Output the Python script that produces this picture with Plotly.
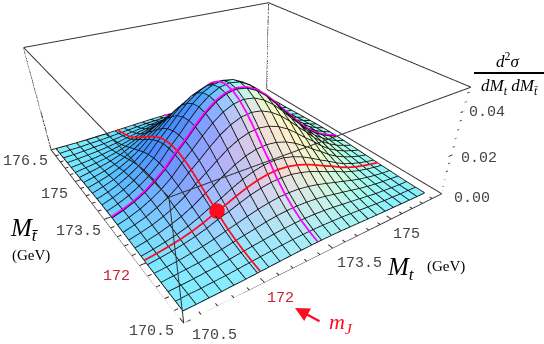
import numpy as np
import plotly.graph_objects as go

W, H = 544, 430

# grid of the surface, GeV
mt = np.linspace(170.6, 176.2, 25)
mtbar = np.linspace(170.7, 176.45, 25)

# d2sigma / dMt dMtbar, in units of 1e-4 (rows: mtbar, columns: mt)
z_rows = [
    [1, 1, 2, 3, 5, 6, 8, 10, 12, 14, 16, 17, 17, 17, 16, 14, 12, 10, 8, 6, 5, 3, 2, 1, 1],
    [1, 3, 4, 7, 9, 13, 17, 21, 25, 29, 31, 33, 34, 33, 31, 29, 25, 21, 17, 13, 9, 7, 4, 3, 1],
    [2, 4, 7, 11, 15, 21, 28, 34, 40, 46, 51, 54, 55, 54, 51, 46, 40, 34, 28, 21, 15, 11, 7, 4, 2],
    [3, 7, 11, 16, 23, 31, 41, 51, 60, 70, 77, 81, 83, 81, 77, 70, 60, 51, 41, 31, 23, 16, 11, 7, 3],
    [5, 9, 15, 23, 32, 44, 58, 71, 85, 98, 108, 115, 117, 115, 108, 98, 85, 71, 58, 44, 32, 23, 15, 9, 5],
    [6, 13, 21, 31, 44, 60, 80, 97, 116, 134, 147, 156, 159, 156, 147, 134, 116, 97, 80, 60, 44, 31, 21, 13, 6],
    [8, 17, 28, 41, 58, 80, 106, 129, 155, 178, 196, 208, 212, 208, 196, 178, 155, 129, 106, 80, 58, 41, 28, 17, 8],
    [10, 21, 34, 51, 71, 97, 129, 158, 189, 218, 240, 254, 259, 254, 240, 218, 189, 158, 129, 97, 71, 51, 34, 21, 10],
    [12, 25, 40, 60, 85, 116, 155, 189, 226, 261, 287, 304, 310, 304, 287, 261, 226, 189, 155, 116, 85, 60, 40, 25, 12],
    [14, 29, 46, 70, 98, 134, 178, 218, 261, 300, 330, 350, 357, 350, 330, 300, 261, 218, 178, 134, 98, 70, 46, 29, 14],
    [16, 31, 51, 77, 108, 147, 196, 240, 287, 330, 364, 386, 393, 386, 364, 330, 287, 240, 196, 147, 108, 77, 51, 31, 16],
    [17, 33, 54, 81, 115, 156, 208, 254, 304, 350, 386, 409, 417, 409, 386, 350, 304, 254, 208, 156, 115, 81, 54, 33, 17],
    [17, 34, 55, 83, 117, 159, 212, 259, 310, 357, 393, 417, 425, 417, 393, 357, 310, 259, 212, 159, 117, 83, 55, 34, 17],
    [17, 33, 54, 81, 115, 156, 208, 254, 304, 350, 386, 409, 417, 409, 386, 350, 304, 254, 208, 156, 115, 81, 54, 33, 17],
    [16, 31, 51, 77, 108, 147, 196, 240, 287, 330, 364, 386, 393, 386, 364, 330, 287, 240, 196, 147, 108, 77, 51, 31, 16],
    [14, 29, 46, 70, 98, 134, 178, 218, 261, 300, 330, 350, 357, 350, 330, 300, 261, 218, 178, 134, 98, 70, 46, 29, 14],
    [12, 25, 40, 60, 85, 116, 155, 189, 226, 261, 287, 304, 310, 304, 287, 261, 226, 189, 155, 116, 85, 60, 40, 25, 12],
    [10, 21, 34, 51, 71, 97, 129, 158, 189, 218, 240, 254, 259, 254, 240, 218, 189, 158, 129, 97, 71, 51, 34, 21, 10],
    [8, 17, 28, 41, 58, 80, 106, 129, 155, 178, 196, 208, 212, 208, 196, 178, 155, 129, 106, 80, 58, 41, 28, 17, 8],
    [6, 13, 21, 31, 44, 60, 80, 97, 116, 134, 147, 156, 159, 156, 147, 134, 116, 97, 80, 60, 44, 31, 21, 13, 6],
    [5, 9, 15, 23, 32, 44, 58, 71, 85, 98, 108, 115, 117, 115, 108, 98, 85, 71, 58, 44, 32, 23, 15, 9, 5],
    [3, 7, 11, 16, 23, 31, 41, 51, 60, 70, 77, 81, 83, 81, 77, 70, 60, 51, 41, 31, 23, 16, 11, 7, 3],
    [2, 4, 7, 11, 15, 21, 28, 34, 40, 46, 51, 54, 55, 54, 51, 46, 40, 34, 28, 21, 15, 11, 7, 4, 2],
    [1, 3, 4, 7, 9, 13, 17, 21, 25, 29, 31, 33, 34, 33, 31, 29, 25, 21, 17, 13, 9, 7, 4, 3, 1],
    [1, 1, 2, 3, 5, 6, 8, 10, 12, 14, 16, 17, 17, 17, 16, 14, 12, 10, 8, 6, 5, 3, 2, 1, 1],
]

x_range = [170.5, 176.5]
y_range = [170.5, 176.5]
z_range = [0.0, 0.05]
aspect = dict(x=1.137, y=1.168, z=0.442)

red_mt, red_mtbar = 172.05, 172.0
magenta_mt, magenta_mtbar = 173.3, 173.35

z = np.array(z_rows, float) * 1e-4
lift = 0.0004


def sample(xq, yq):
    # bilinear lookup on the table
    fx = np.clip(np.interp(xq, mt, np.arange(25)), 0, 23.999)
    fy = np.clip(np.interp(yq, mtbar, np.arange(25)), 0, 23.999)
    i, j = fx.astype(int), fy.astype(int)
    a, b = fx - i, fy - j
    return (z[j, i] * (1 - a) * (1 - b) + z[j, i + 1] * a * (1 - b)
            + z[j + 1, i] * (1 - a) * b + z[j + 1, i + 1] * a * b)


# surface cells, coloured like three coloured lights
X, Y = np.meshgrid(mt, mtbar)
idx = np.arange(625).reshape(25, 25)
tri_i, tri_j, tri_k, colors = [], [], [], []
sx = aspect["x"] / (x_range[1] - x_range[0])
sy = aspect["y"] / (y_range[1] - y_range[0])
sz = aspect["z"] / (z_range[1] - z_range[0])
base = np.array([130, 238, 255.0])
cx = np.array([80, 71, -54.0])
cy = np.array([-125, -30, 12.0])
cq = np.array([41, -84, -51.0])
for j in range(24):
    for i in range(24):
        gx = (z[j, i + 1] + z[j + 1, i + 1] - z[j, i] - z[j + 1, i]) / 2 * sz / ((mt[i + 1] - mt[i]) * sx)
        gy = (z[j + 1, i] + z[j + 1, i + 1] - z[j, i] - z[j, i + 1]) / 2 * sz / ((mtbar[j + 1] - mtbar[j]) * sy)
        norm = np.sqrt(1 + gx * gx + gy * gy)
        nx, ny = -gx / norm, -gy / norm
        c = np.clip(base + nx * cx + ny * cy + (nx * nx + ny * ny) * cq, 0, 255)
        col = "rgb(%d,%d,%d)" % tuple(c)
        tri_i += [idx[j, i], idx[j, i]]
        tri_j += [idx[j, i + 1], idx[j + 1, i + 1]]
        tri_k += [idx[j + 1, i + 1], idx[j + 1, i]]
        colors += [col, col]

fig = go.Figure()
fig.add_trace(go.Mesh3d(
    x=X.ravel(), y=Y.ravel(), z=z.ravel(), i=tri_i, j=tri_j, k=tri_k, facecolor=colors, flatshading=True,
    lighting=dict(ambient=1, diffuse=0, specular=0, fresnel=0.2, roughness=0.9, facenormalsepsilon=0, vertexnormalsepsilon=0),
    hoverinfo="skip",
))

# mesh lines
lx, ly, lz = [], [], []
for j in range(25):
    lx += list(mt) + [None]
    ly += [mtbar[j]] * 25 + [None]
    lz += list(z[j] + lift) + [None]
for i in range(25):
    lx += [mt[i]] * 25 + [None]
    ly += list(mtbar) + [None]
    lz += list(z[:, i] + lift) + [None]
fig.add_trace(go.Scatter3d(x=lx, y=ly, z=lz, mode="lines", line=dict(color="#111111", width=1.7), hoverinfo="skip"))


def mass_lines(at_x, at_y, color):
    fine_x = np.linspace(mt[0], mt[-1], 113)
    fine_y = np.linspace(mtbar[0], mtbar[-1], 113)
    for xs, ys in [(np.full(113, at_x), fine_y), (fine_x, np.full(113, at_y))]:
        fig.add_trace(go.Scatter3d(x=xs, y=ys, z=sample(xs, ys) + 2 * lift, mode="lines",
                                   line=dict(color=color, width=3.5), hoverinfo="skip"))


mass_lines(magenta_mt, magenta_mtbar, "#ff00ff")
mass_lines(red_mt, red_mtbar, "#ff0a1e")
fig.add_trace(go.Scatter3d(x=[red_mt], y=[red_mtbar], z=sample(np.array([red_mt]), np.array([red_mtbar])) + 3 * lift,
                           mode="markers", marker=dict(color="#ff0a1e", size=9), hoverinfo="skip"))

# box edges
x0, x1 = x_range
y0, y1 = y_range
z0, z1 = z_range
edges = [((x0, y0, z0), (x1, y0, z0)), ((x0, y0, z0), (x0, y1, z0)), ((x1, y0, z0), (x1, y1, z0)),
         ((x0, y1, z0), (x1, y1, z0)), ((x0, y0, z1), (x1, y0, z1)), ((x0, y0, z1), (x0, y1, z1)),
         ((x1, y0, z1), (x1, y1, z1)), ((x0, y1, z1), (x1, y1, z1)), ((x0, y0, z0), (x0, y0, z1)),
         ((x1, y0, z0), (x1, y0, z1)), ((x0, y1, z0), (x0, y1, z1)), ((x1, y1, z0), (x1, y1, z1))]
bx, by, bz = [], [], []
for a, b in edges:
    bx += [a[0], b[0], None]
    by += [a[1], b[1], None]
    bz += [a[2], b[2], None]

# ticks on the three labelled edges
major = [170.5, 172.0, 173.5, 175.0, 176.5]
minor = [170.8, 171.1, 171.4, 171.7, 172.3, 172.6, 172.9, 173.2, 173.8, 174.1, 174.4, 174.7, 175.3, 175.6, 175.9, 176.2]
z_major = [0.0, 0.02, 0.04]
z_minor = [0.004, 0.008, 0.012, 0.016, 0.024, 0.028, 0.032, 0.036, 0.044, 0.048]
for v, n in [(m, 0.12) for m in major] + [(m, 0.07) for m in minor]:
    bx += [v, v, None, x0, x0 + n, None]
    by += [y0, y0 + n, None, v, v, None]
    bz += [z0, z0, None, z0, z0, None]
for v, n in [(m, 0.12) for m in z_major] + [(m, 0.07) for m in z_minor]:
    bx += [x1, x1 - n, None]
    by += [y0, y0, None]
    bz += [v, v, None]
fig.add_trace(go.Scatter3d(x=bx, y=by, z=bz, mode="lines", line=dict(color="#333333", width=2), hoverinfo="skip"))


def px(x, y):
    return x / W, 1 - y / H


def label(text, x, y, size, family, color="#444444"):
    fx, fy = px(x, y)
    fig.add_annotation(xref="paper", yref="paper", x=fx, y=fy, xanchor="center", yanchor="middle", showarrow=False,
                       text=text, font=dict(size=size, family=family, color=color))


mono = "Liberation Mono"
serif = "Liberation Serif"
red = "#cc2233"
grey = "#444444"
for text, x, y, color in [("176.5", 25, 161, grey), ("175", 54, 194, grey), ("173.5", 78, 231, grey),
                          ("172", 116, 276, red), ("170.5", 151, 331, grey), ("170.5", 214, 335, grey),
                          ("172", 280, 298, red), ("173.5", 359, 263, grey), ("175", 406, 234, grey),
                          ("0.00", 472, 198, grey), ("0.02", 479, 158, grey), ("0.04", 487, 112, grey)]:
    label(text, x, y, 15, mono, color)

label("<i>M</i><sub><i>t</i></sub>", 401, 268, 25, serif, "black")
label("(GeV)", 446, 266, 15, serif, "black")
label("<i>M</i><sub><i>t\u0304</i></sub>", 24, 229, 25, serif, "black")
label("(GeV)", 31, 255, 15, serif, "black")
label("<i>d</i><sup>2</sup><i>\u03c3</i>", 507, 60, 17, serif, "black")
label("<i>dM</i><sub><i>t</i></sub> <i>dM</i><sub><i>t\u0304</i></sub>", 509, 87, 17, serif, "black")
label("<i>m</i><sub><i>J</i></sub>", 341, 323, 22, serif, "#ff0a1e")

fig.add_shape(type="line", xref="paper", yref="paper", x0=474 / W, x1=544 / W, y0=1 - 73 / H, y1=1 - 73 / H,
              line=dict(color="black", width=2))
tip = px(295, 308)
fig.add_annotation(xref="paper", yref="paper", x=tip[0], y=tip[1], ax=26, ay=14, text="", showarrow=True,
                   arrowhead=2, arrowsize=1.3, arrowwidth=2.2, arrowcolor="#ff0a1e")

hidden = dict(visible=False, showspikes=False)
fig.update_layout(
    width=W, height=H, margin=dict(l=0, r=0, t=0, b=0), showlegend=False, paper_bgcolor="white",
    scene=dict(
        domain=dict(x=[0, 1], y=[0, 1]),
        aspectmode="manual", aspectratio=aspect, bgcolor="white",
        camera=dict(eye=dict(x=-0.973, y=-1.511, z=0.933), center=dict(x=-0.012, y=-0.255, z=-0.282),
                    up=dict(x=0.345, y=0.503, z=0.793)),
        xaxis=dict(range=x_range, **hidden), yaxis=dict(range=y_range, **hidden), zaxis=dict(range=z_range, **hidden),
    ),
)
fig.write_html("out.html", config=dict(displayModeBar=False),
               post_script="document.body.style.margin='0';document.documentElement.style.overflow='hidden';")
